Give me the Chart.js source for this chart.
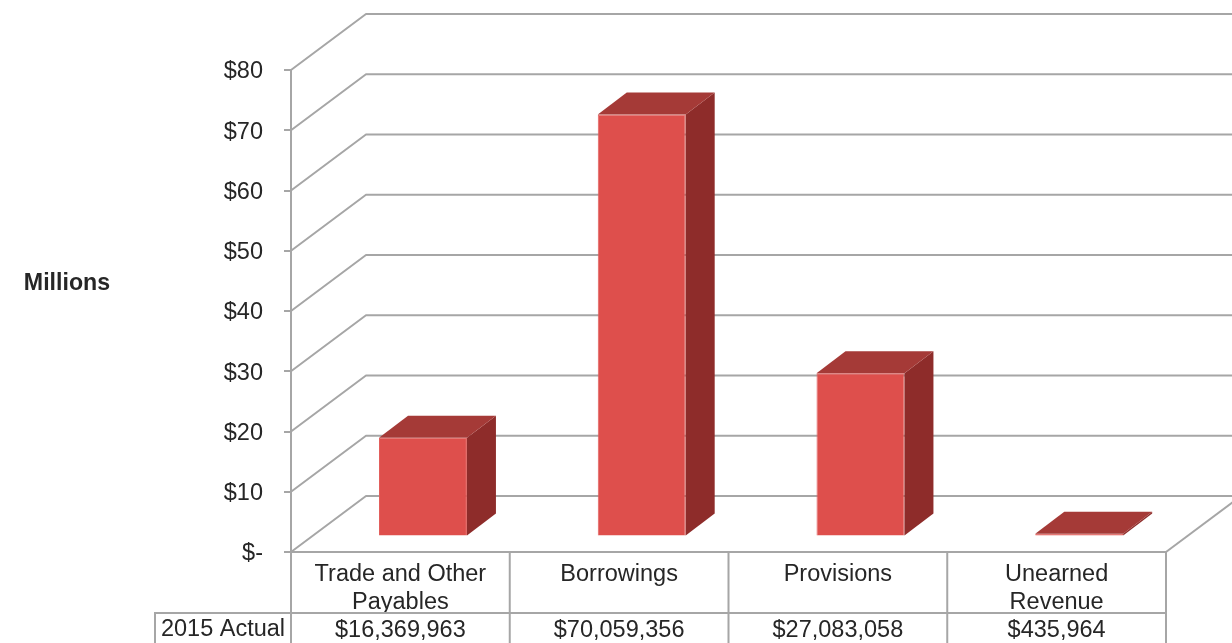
<!DOCTYPE html>
<html><head><meta charset="utf-8">
<style>html,body{margin:0;padding:0;background:#fff;overflow:hidden}canvas{display:block}</style>
<script src="https://cdn.jsdelivr.net/npm/chart.js@4"></script>
</head><body>
<canvas id="c" width="1232" height="643"></canvas>
<script>
const categories = [["Trade and Other","Payables"],["Borrowings",""],["Provisions",""],["Unearned","Revenue"]];
const seriesName = "2015 Actual";
const values = [16369963, 70059356, 27083058, 435964];
const axisTitle = "Millions";

const FONT = '"Liberation Sans", Arial, sans-serif';
const LINE = '#a6a6a6', TEXT = '#262626';
const WALL = {dx:75, dy:-56};
const BAR_SHIFT = {dx:22.6, dy:-15.5};
const BAR_DEPTH = {dx:29, dy:-22};

function poly(ctx, pts, fill, stroke){
  ctx.beginPath();
  pts.forEach((p,i)=> i?ctx.lineTo(p[0],p[1]):ctx.moveTo(p[0],p[1]));
  ctx.closePath();
  ctx.fillStyle = fill; ctx.fill();
  if(stroke){ctx.strokeStyle=stroke;ctx.lineWidth=1;ctx.stroke();}
}

const threeD = {
  id:'threeD',
  beforeDatasetsDraw(chart){
    const {ctx, chartArea:a, scales:{y}, width} = chart;
    ctx.save();
    ctx.strokeStyle = LINE; ctx.lineWidth = 2; ctx.lineJoin='round';
    y.ticks.forEach(t=>{
      const py = y.getPixelForValue(t.value);
      ctx.beginPath();
      ctx.moveTo(a.left, py);
      ctx.lineTo(a.left+WALL.dx, py+WALL.dy);
      ctx.lineTo(width, py+WALL.dy);
      ctx.stroke();
    });
    // floor edge on the right
    const by = y.getPixelForValue(0);
    ctx.beginPath();
    ctx.moveTo(a.right, by);
    ctx.lineTo(a.right+WALL.dx, by+WALL.dy);
    ctx.stroke();
    ctx.restore();
    // bars sit inside the box, off the front plane
    ctx.save();
    ctx.translate(BAR_SHIFT.dx, BAR_SHIFT.dy);
  },
  afterDatasetsDraw(chart){
    const {ctx} = chart;
    chart.getDatasetMeta(0).data.forEach(b=>{
      const l=b.x-b.width/2, r=b.x+b.width/2, t=b.y, bt=b.base;
      const d=BAR_DEPTH;
      poly(ctx,[[r,t],[r+d.dx,t+d.dy],[r+d.dx,bt+d.dy],[r,bt]],'#8e2c2a');
      poly(ctx,[[l,t],[l+d.dx,t+d.dy],[r+d.dx,t+d.dy],[r,t]],'#a53a37');
    });
    ctx.restore();
  },
  afterDraw(chart){
    const {ctx, chartArea:a, scales:{x}, height} = chart;
    const rowY = 613, firstLeft = 155;
    ctx.save();
    ctx.strokeStyle = LINE; ctx.lineWidth = 2;
    ctx.beginPath();
    ctx.moveTo(firstLeft, height); ctx.lineTo(firstLeft, rowY); ctx.lineTo(a.right, rowY);
    const step = (a.right-a.left)/categories.length;
    for(let i=0;i<=categories.length;i++){
      const px = i===categories.length ? a.right : x.getPixelForValue(i)-step/2;
      ctx.moveTo(px, a.bottom); ctx.lineTo(px, height);
    }
    ctx.stroke();
    ctx.fillStyle = TEXT;
    ctx.textBaseline = 'middle';
    ctx.textAlign = 'center';
    ctx.font = '23.5px '+FONT;
    ctx.fillText(seriesName, (firstLeft+a.left)/2, 630);
    ctx.font = 'bold 23.2px '+FONT;
    ctx.fillText(axisTitle, 67, 284);
    ctx.restore();
  }
};

new Chart(document.getElementById('c'),{
  type:'bar',
  data:{
    labels:categories,
    datasets:[{
      label:seriesName,
      data:values,
      backgroundColor:'#de4f4c',
      borderColor:'#e25f5c',
      borderWidth:1,
      barPercentage:0.402,
      categoryPercentage:1,
      clip:false
    }]
  },
  plugins:[threeD],
  options:{
    responsive:false,
    animation:false,
    devicePixelRatio:1,
    layout:{padding:{top:70,right:66,left:0,bottom:0}},
    plugins:{legend:{display:false},tooltip:{enabled:false},title:{display:false}},
    scales:{
      x:{
        afterFit(s){s.height=91;},
        border:{display:true,color:LINE,width:2},
        grid:{display:false,drawTicks:false},
        ticks:{
          color:TEXT,padding:9,maxRotation:0,autoSkip:false,
          font:{family:FONT,size:23.5,lineHeight:1.175},
          callback(v,i){
            return [...categories[i], '$'+values[i].toLocaleString('en-US')];
          }
        }
      },
      y:{
        min:0,max:80000000,
        afterFit(s){s.width=291;},
        border:{display:true,color:LINE,width:2},
        grid:{drawOnChartArea:false,drawTicks:true,tickLength:7,color:LINE,lineWidth:2},
        ticks:{
          stepSize:10000000,color:TEXT,padding:21,
          font:{family:FONT,size:23.5,lineHeight:'4px'},
          callback(v){return ['', v===0?'$-':'$'+(v/1e6)];}
        }
      }
    }
  }
});
</script>
</body></html>
